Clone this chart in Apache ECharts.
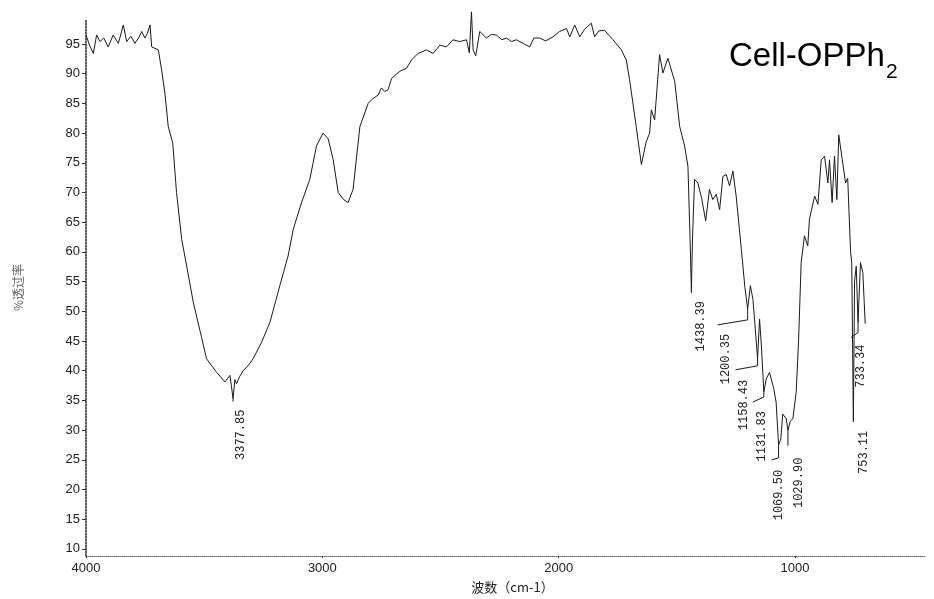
<!DOCTYPE html>
<html>
<head>
<meta charset="utf-8">
<script src="https://cdn.jsdelivr.net/npm/echarts@6/dist/echarts.min.js"></script>
<style>
  html, body { margin: 0; padding: 0; background: #fff; }
  #chart { width: 934px; height: 599px; }
</style>
</head>
<body>
<div id="chart"></div>
<script>
// ---- data ----
const wavenumbers = [
  4000, 3985, 3969, 3955, 3941, 3925, 3906, 3885, 3863, 3842, 3828, 3810, 3793, 3778, 3764, 3751, 3740, 3729, 3722, 3694,
  3680, 3666, 3652, 3633, 3617, 3595, 3574, 3546, 3511, 3490, 3447, 3412, 3391, 3385, 3377.85, 3370, 3363, 3350, 3335, 3315,
  3293, 3257, 3222, 3180, 3145, 3123, 3088, 3053, 3025, 2997, 2975, 2954, 2933, 2910, 2891, 2870, 2841, 2806, 2792, 2764,
  2750, 2736, 2722, 2707, 2672, 2644, 2623, 2595, 2560, 2531, 2503, 2475, 2447, 2419, 2390, 2378, 2369, 2362, 2351, 2334,
  2306, 2285, 2264, 2240, 2221, 2200, 2179, 2150, 2123, 2105, 2080, 2055, 2024, 1996, 1967, 1953, 1932, 1911, 1890, 1862,
  1848, 1830, 1806, 1770, 1735, 1714, 1700, 1672, 1650, 1630, 1615, 1608, 1594, 1573, 1559, 1538, 1509, 1488, 1467, 1453,
  1444, 1438.39, 1434, 1425, 1411, 1395, 1378, 1362, 1348, 1333, 1319, 1305, 1291, 1277, 1263, 1249, 1227, 1212, 1200.35, 1189,
  1178, 1170, 1158.43, 1150, 1142, 1131.83, 1122, 1108, 1101, 1090, 1080, 1069.5, 1060, 1052, 1037, 1029.9, 1020, 1009, 995, 985,
  974, 960, 946, 939, 917, 903, 889, 875, 861, 854, 843, 833, 823, 815, 800, 786, 777, 765, 760, 753.11,
  748, 741, 733.34, 723, 713, 703
];
const transmittance = [
  96.5, 94.8, 93.4, 96.5, 95.4, 96.0, 94.5, 96.5, 95.1, 98.2, 95.4, 96.3, 95.1, 96.0, 97.1, 96.0, 96.8, 98.2, 94.5, 94.0,
  90.6, 86.7, 81.1, 78.3, 70.0, 62.1, 57.6, 51.5, 45.6, 42.0, 39.7, 38.1, 39.2, 37.5, 35.3, 38.5, 37.8, 39.0, 40.0, 40.8,
  42.0, 44.8, 48.1, 54.3, 59.3, 63.8, 68.3, 72.2, 77.8, 80.0, 79.0, 75.5, 70.0, 68.8, 68.3, 70.5, 81.1, 85.0, 85.6, 86.4,
  87.6, 87.0, 87.3, 89.2, 90.4, 90.9, 92.3, 93.4, 94.0, 93.4, 94.8, 94.5, 95.7, 95.4, 95.7, 93.5, 100.4, 94.0, 93.0, 97.1,
  96.0, 96.6, 96.5, 95.7, 96.0, 95.4, 95.7, 95.1, 94.5, 96.0, 96.0, 95.5, 96.2, 97.1, 97.6, 96.2, 98.2, 96.2, 97.5, 98.5,
  96.2, 97.2, 97.3, 95.7, 94.0, 92.3, 89.0, 81.1, 74.7, 78.5, 80.0, 83.9, 82.2, 93.2, 90.1, 92.6, 88.7, 81.1, 77.8, 74.4,
  62.0, 53.4, 62.0, 72.2, 71.6, 69.0, 65.2, 70.5, 68.8, 69.7, 67.1, 72.7, 73.0, 71.1, 73.6, 69.4, 60.4, 54.0, 50.4, 54.3,
  52.0, 48.0, 42.0, 48.7, 44.0, 36.4, 38.6, 39.7, 39.7, 37.0, 34.7, 27.5, 28.5, 32.7, 31.9, 29.9, 31.5, 31.9, 36.4, 45.0,
  58.2, 62.7, 61.0, 65.5, 69.4, 68.0, 75.5, 76.1, 71.6, 75.5, 68.3, 76.1, 68.8, 79.7, 75.5, 71.6, 72.4, 60.0, 58.2, 31.4,
  55.0, 57.6, 48.1, 58.2, 56.5, 47.9
];
const yTickValues = [10, 15, 20, 25, 30, 35, 40, 45, 50, 55, 60, 65, 70, 75, 80, 85, 90, 95];
const xTickValues = [4000, 3000, 2000, 1000];
const peakLabels = ['3377.85', '1438.39', '1200.35', '1158.43', '1131.83', '1069.50', '1029.90', '753.11', '733.34'];
const peakWn = [3377.85, 1438.39, 1200.35, 1158.43, 1131.83, 1069.5, 1029.9, 753.11, 733.34];
const peakTipT = [35.3, 53.4, 50.4, 42.0, 36.4, 27.5, 29.9, 31.4, 48.1];

// ---- annotation layout (pixel offsets from each peak tip) ----
const leaderLayout = [
  { knee: 3,  foot: [0, 3],    label: [8, 11] },
  { knee: 2,  foot: [0, 2],    label: [9, 10] },
  { knee: 11, foot: [-30, 16], label: [-22, 25] },
  { knee: 7,  foot: [-22, 11], label: [-14, 21] },
  { knee: 5,  foot: [-11, 10], label: [-2, 19] },
  { knee: 13, foot: [-7, 15],  label: [0, 25] },
  { knee: 15, foot: [0, 15],   label: [11, 27] },
  { knee: 0,  foot: [0, 0],    label: [10, 9] },
  { knee: 10, foot: [-7, 15],  label: [3, 22] }
];

const spectrum = wavenumbers.map((w, i) => [w, transmittance[i]]);
const peakData = peakWn.map((w, i) => [w, peakTipT[i], i]);

const chart = echarts.init(document.getElementById('chart'), null, { renderer: 'canvas' });
chart.setOption({
  animation: false,
  backgroundColor: '#ffffff',
  grid: { left: 86, right: 9, top: 19, bottom: 41, containLabel: false },
  xAxis: {
    type: 'value',
    inverse: true,
    min: 450,
    max: 4000,
    name: '波数（cm-1）',
    nameLocation: 'middle',
    nameGap: 25,
    nameTextStyle: { fontFamily: '"Noto Sans CJK SC"', fontSize: 13, color: '#222', padding: [0, 0, 0, 14] },
    axisLine: { show: true, lineStyle: { color: '#666', type: 'dotted', width: 1 } },
    axisTick: { show: true, customValues: xTickValues, length: 2, inside: false, lineStyle: { color: '#333' } },
    axisLabel: {
      customValues: xTickValues,
      formatter: function (v) { return String(v); },
      fontFamily: '"Liberation Sans"', fontSize: 13, color: '#222', margin: 6
    },
    splitLine: { show: false }
  },
  yAxis: {
    type: 'value',
    min: 8.8,
    max: 99.2,
    name: '%透过率',
    nameLocation: 'middle',
    nameRotate: 90,
    nameGap: 62,
    nameTextStyle: { fontFamily: '"Noto Sans CJK SC"', fontSize: 12, color: '#666' },
    axisLine: { show: true, lineStyle: { color: '#222', type: 'dotted', width: 1.5 } },
    axisTick: { show: true, customValues: yTickValues, length: 4, lineStyle: { color: '#333' } },
    axisLabel: {
      customValues: yTickValues,
      formatter: function (v) { return String(v); },
      fontFamily: '"Liberation Sans"', fontSize: 13, color: '#222', margin: 6
    },
    splitLine: { show: false }
  },
  graphic: [
    { type: 'text', left: 729, top: 40, style: { text: 'Cell-OPPh', font: '33px "Liberation Sans"', fill: '#000' } },
    { type: 'text', left: 886, top: 62, style: { text: '2', font: '21px "Liberation Sans"', fill: '#000' } }
  ],
  series: [
    {
      type: 'line',
      data: spectrum,
      showSymbol: false,
      clip: false,
      lineStyle: { color: '#1a1a1a', width: 1 },
      z: 2
    },
    {
      type: 'custom',
      coordinateSystem: 'cartesian2d',
      data: peakData,
      encode: { x: 0, y: 1 },
      clip: false,
      z: 3,
      renderItem: function (params, api) {
        const i = api.value(2);
        const p = api.coord([api.value(0), api.value(1)]);
        const L = leaderLayout[i];
        const pts = [
          [p[0], p[1]],
          [p[0], p[1] + L.knee],
          [p[0] + L.foot[0], p[1] + L.foot[1]]
        ];
        return {
          type: 'group',
          children: [
            { type: 'polyline', shape: { points: pts }, style: { stroke: '#1a1a1a', lineWidth: 1, fill: null } },
            {
              type: 'text',
              x: p[0] + L.label[0],
              y: p[1] + L.label[1],
              rotation: Math.PI / 2,
              style: {
                text: peakLabels[i],
                font: '12px "Liberation Mono"',
                fill: '#222',
                align: 'right',
                verticalAlign: 'middle'
              }
            }
          ]
        };
      }
    }
  ]
});
</script>
</body>
</html>
